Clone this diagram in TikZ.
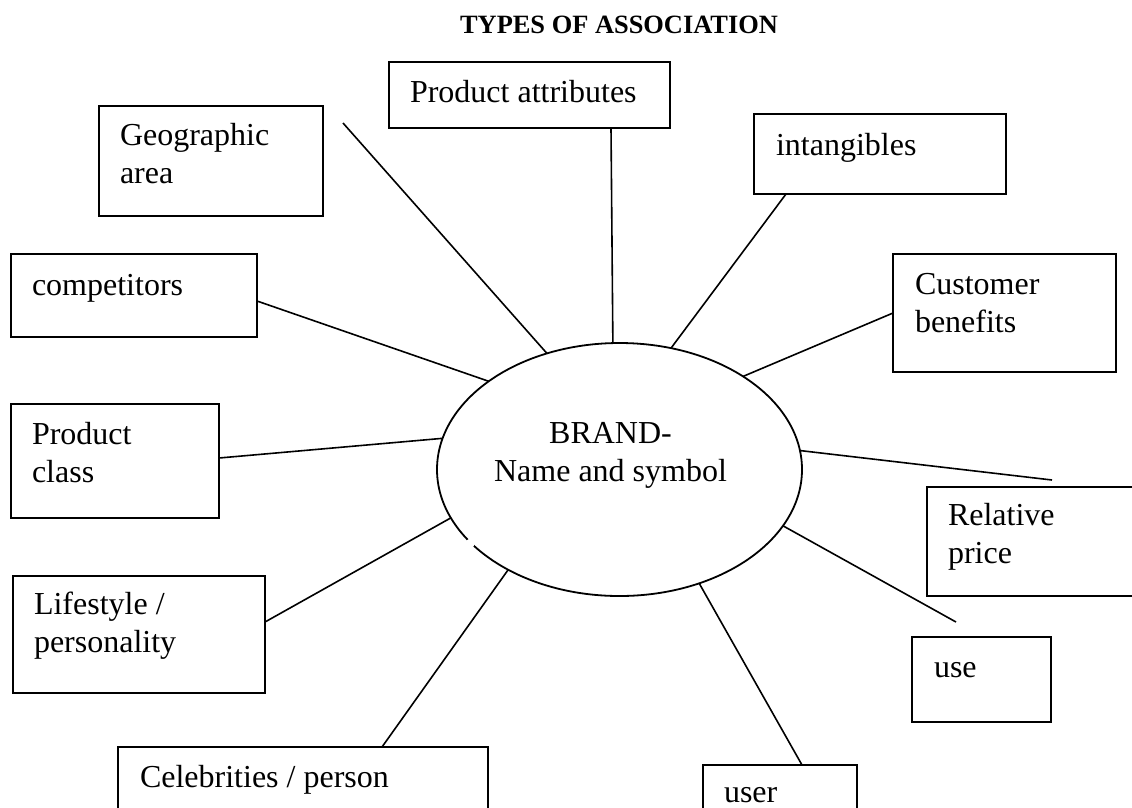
\documentclass[tikz,border=0pt]{standalone}
\usepackage{fontspec}
\setmainfont{Liberation Serif}
\usetikzlibrary{calc,shapes.geometric}
\begin{document}
\begin{tikzpicture}[x=1pt,y=-1pt,
  box/.style={draw, line width=1.8pt, rectangle, inner sep=0pt, outer sep=0pt, anchor=north west},
  lbl/.style={inner sep=0pt, outer sep=0pt, anchor=base west, align=left, font=\fontsize{32}{37.5}\selectfont},
  link/.style={line width=1.6pt}]
\useasboundingbox (0,0) rectangle (1132,807);
\clip (0,0) rectangle (1132,807);
\node[inner sep=0pt, anchor=base, font=\bfseries\fontsize{26.4}{30}\selectfont] (title) at (619,33) {TYPES OF ASSOCIATION};
% boxes
\node[box, minimum width=281pt, minimum height=66pt] (attr) at (389,62) {};
\node[box, minimum width=224pt, minimum height=110pt] (geo) at (99,106) {};
\node[box, minimum width=252pt, minimum height=80pt] (intang) at (754,114) {};
\node[box, minimum width=246pt, minimum height=83pt] (comp) at (11,254) {};
\node[box, minimum width=223pt, minimum height=118pt] (cust) at (893,254) {};
\node[box, minimum width=208pt, minimum height=114pt] (pclass) at (11,404) {};
\node[box, minimum width=240pt, minimum height=109pt] (relp) at (927,487) {};
\node[box, minimum width=252pt, minimum height=117pt] (life) at (13,576) {};
\node[box, minimum width=139pt, minimum height=85pt] (use) at (912,637) {};
\node[box, minimum width=370pt, minimum height=100pt] (celeb) at (118,747) {};
\node[box, minimum width=154pt, minimum height=100pt] (user) at (703,765) {};
% labels (multi-line labels are anchored at the baseline of their last line)
\node[lbl] (attrt) at (410,102) {Product attributes};
\node[lbl] (geot) at (120,183) {Geographic\\area};
\node[lbl] (intangt) at (776,155) {intangibles};
\node[lbl] (compt) at (32,295) {competitors};
\node[lbl] (custt) at (915,332) {Customer\\benefits};
\node[lbl] (pclasst) at (32,482) {Product\\class};
\node[lbl] (relpt) at (948,563) {Relative\\price};
\node[lbl] (lifet) at (34,652) {Lifestyle /\\personality};
\node[lbl] (uset) at (934,677) {use};
\node[lbl] (celebt) at (140,787) {Celebrities / person};
\node[lbl] (usert) at (724,802) {user};
% centre
\node[draw, ellipse, line width=1.8pt, minimum width=365pt, minimum height=253pt, inner sep=0pt, outer sep=0pt] (brand) at (619.5,469.5) {};
\node[inner sep=0pt, anchor=base, align=center, font=\fontsize{32}{38}\selectfont] (brandt) at (610.5,481) {BRAND-\\Name and symbol};
\fill[white] (470.5,543) circle (4.5);
% connectors
\coordinate (geoend) at (343,123);
\coordinate (relpend) at (1052,480);
\coordinate (useend) at (956,622);
\draw[link] (geoend) -- (brand.122);
\draw[link] ($(attr.south west)+(222,0)$) -- (brand.93.8);
\draw[link] ($(intang.south west)+(32,0)$) -- (brand.67.2);
\draw[link] ($(cust.north west)+(0,59)$) -- (brand.37.9);
\draw[link] ($(comp.north east)+(0,47)$) -- (brand.146.8);
\draw[link] ($(pclass.north east)+(0,54)$) -- (brand.170.7);
\draw[link] (brand.6.1) -- (relpend);
\draw[link] ($(life.north east)+(0,46)$) -- (brand.196.1);
\draw[link] ($(celeb.north west)+(264,0)$) -- (brand.222.3);
\draw[link] (brand.341.1) -- (useend);
\draw[link] (brand.305.3) -- ($(user.north west)+(99,0)$);
\end{tikzpicture}
\end{document}
